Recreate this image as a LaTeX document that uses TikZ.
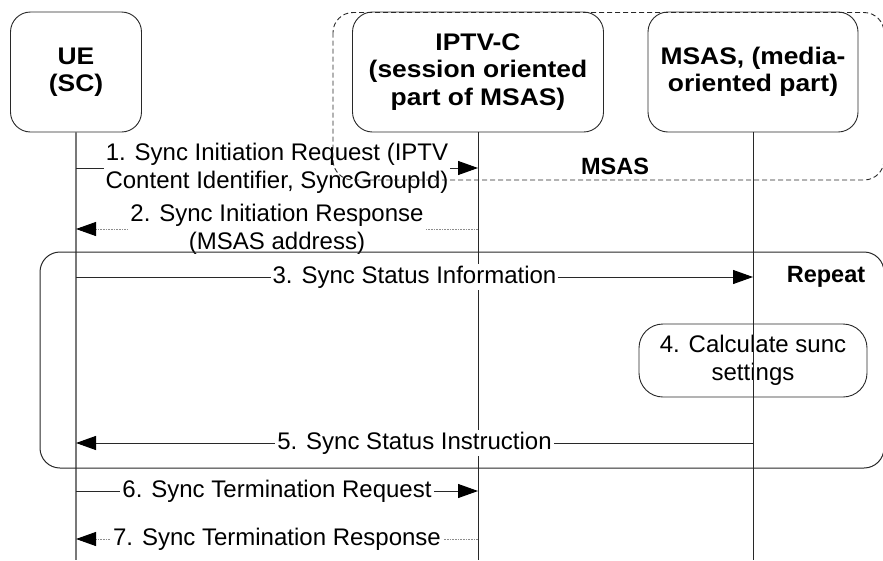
\documentclass[tikz,border=0pt]{standalone}
\usepackage{fontspec}
\setmainfont{Liberation Sans}
\newfontfamily\hdrfont[FakeStretch=1.1]{Liberation Sans}
\usepackage{tikz}
\usetikzlibrary{positioning,arrows.meta}
\definecolor{linegray}{RGB}{40,40,40}
\definecolor{lifegray}{RGB}{120,120,120}
\definecolor{dotgray}{RGB}{140,140,140}

\begin{document}
\begin{tikzpicture}[x=1pt,y=-1pt,
    entity/.style={rectangle,rounded corners=20pt,draw=linegray,line width=0.9pt,fill=white,minimum height=120pt,align=center,font=\hdrfont\bfseries\fontsize{24}{27.5}\selectfont},
    action/.style={rectangle,rounded corners=24pt,draw=linegray,line width=0.9pt,fill=white,minimum width=228pt,minimum height=73pt,align=center,font=\fontsize{24}{28}\selectfont},
    life/.style={draw=linegray,line width=1pt},
    msg/.style={draw=linegray,line width=1pt,-{Triangle[length=20pt,width=14pt,color=black]}},
    reply/.style={draw=dotgray,line width=0.9pt,dash pattern=on 0.8pt off 0.8pt,-{Triangle[length=20pt,width=14pt,color=black]}},
    lbl/.style={fill=white,inner sep=2pt,align=center,font=\fontsize{24}{28}\selectfont},
    tag/.style={font=\bfseries\fontsize{23.5}{27.5}\selectfont}]
    \useasboundingbox (0,0) rectangle (883,560);

    % Entities
    \node[entity,minimum width=131pt] (ue) at (76,72) {UE\\(SC)};
    \node[entity,minimum width=251pt] (iptv) at (478,72) {IPTV-C\\(session oriented\\part of MSAS)};
    \node[entity,minimum width=210pt] (msas) at (753,72) {MSAS, (media-\\oriented part)};

    % Step 4, lifeline runs over it
    \node[action] (calc) at (753,360.5) {4. Calculate sunc\\settings};

    % Lifelines
    \coordinate (bot) at (0,560);
    \draw[life,draw=lifegray,line width=1.3pt] (ue) -- (ue |- bot);
    \draw[life] (iptv) -- (iptv |- bot);
    \draw[life] (msas) -- (msas |- bot);

    % Messages
    \coordinate (m1) at (0,168);
    \coordinate (m2) at (0,229);
    \coordinate (m3) at (0,277);
    \coordinate (m5) at (0,443);
    \coordinate (m6) at (0,491);
    \coordinate (m7) at (0,539);
    \draw[msg] (ue |- m1) -- node[lbl] {1. Sync Initiation Request (IPTV\\Content Identifier, SyncGroupId)} (iptv |- m1);
    \draw[reply] (iptv |- m2) -- node[lbl] {2. Sync Initiation Response\\(MSAS address)} (ue |- m2);
    \draw[msg] (ue |- m3) -- node[lbl] {3. Sync Status Information} (msas |- m3);
    \draw[msg] (msas |- m5) -- node[lbl] {5. Sync Status Instruction} (ue |- m5);
    \draw[msg] (ue |- m6) -- node[lbl] {6. Sync Termination Request} (iptv |- m6);
    \draw[reply] (iptv |- m7) -- node[lbl] {7. Sync Termination Response} (ue |- m7);

    % Frames
    \draw[linegray,line width=0.9pt,dash pattern=on 5pt off 3pt,rounded corners=20pt] (333,12.5) rectangle (884,180);
    \node[tag] (msaslbl) at (615,166) {MSAS};
    \draw[linegray,line width=1pt,rounded corners=20pt] (40,252) rectangle (884,468);
    \node[tag] (repeat) at (826,277) {Repeat};
\end{tikzpicture}
\end{document}
